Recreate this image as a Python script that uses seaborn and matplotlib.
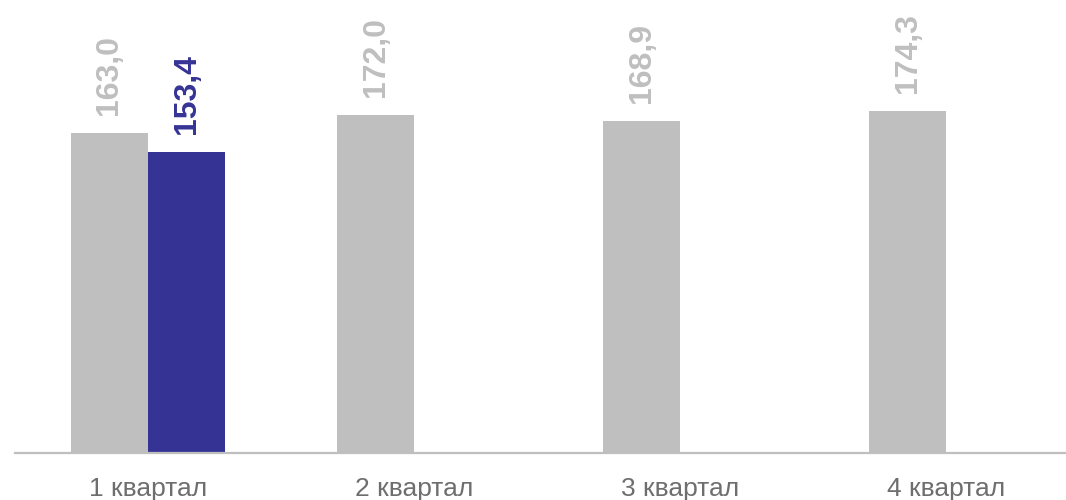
import matplotlib
matplotlib.use("Agg")
import matplotlib.pyplot as plt
import seaborn as sns
import pandas as pd
import numpy as np

quarters = ["1 квартал", "2 квартал", "3 квартал", "4 квартал"]
prev_year = [163.0, 172.0, 168.9, 174.3]
cur_year = [153.4, np.nan, np.nan, np.nan]

grey = "#BFBFBF"
blue = "#353495"

df = pd.DataFrame({
    "quarter": quarters * 2,
    "value": prev_year + cur_year,
    "series": ["prev"] * 4 + ["cur"] * 4,
})

sns.set_style("white")
plt.rcParams["font.family"] = ["Liberation Sans", "DejaVu Sans"]

fig = plt.figure(figsize=(10.66, 5), dpi=100)
ax = fig.add_axes([15 / 1066, 47 / 500, 1 - 15 / 1066, 453 / 500])

sns.barplot(data=df, x="quarter", y="value", hue="series", hue_order=["prev", "cur"],
            palette={"prev": grey, "cur": blue}, width=0.58, saturation=1,
            linewidth=0, legend=False, ax=ax)

# value labels above bars
for container, col in zip(ax.containers, [grey, blue]):
    for bar in container:
        h = bar.get_height()
        if np.isnan(h):
            continue
        ax.annotate(f"{h:.1f}".replace(".", ","),
                    (bar.get_x() + bar.get_width() / 2, h),
                    xytext=(0, 13), textcoords="offset points",
                    rotation=90, ha="center", va="bottom",
                    fontsize=23, fontweight="bold", color=col)

ax.set_xlim(-0.5, 3.45)
ax.set_ylim(0, 230.7)
ax.set_xlabel("")
ax.set_ylabel("")
ax.set_yticks([])
for s in ["top", "right", "left"]:
    ax.spines[s].set_visible(False)
ax.spines["bottom"].set_color(grey)
ax.spines["bottom"].set_linewidth(1.6)
ax.tick_params(axis="x", length=0, pad=17, labelsize=19, labelcolor="#6E6E6E")

fig.savefig("out.png", dpi=100)
